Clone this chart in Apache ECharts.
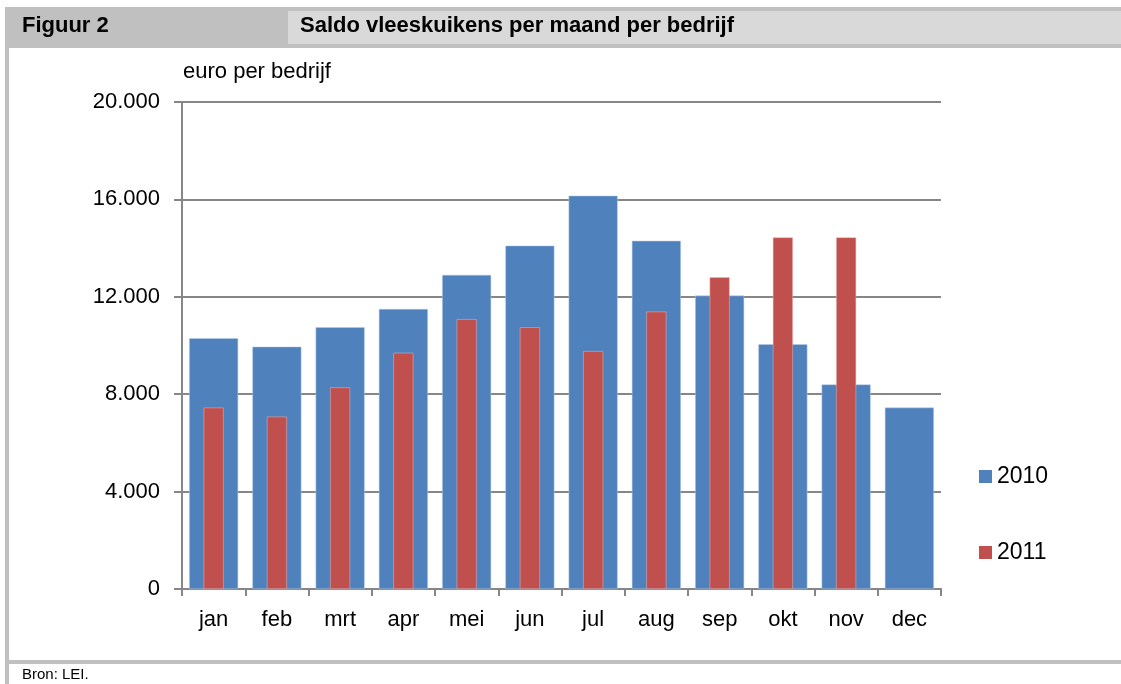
<!DOCTYPE html>
<html>
<head>
    <meta charset="UTF-8">
    <title>Figuur 2</title>
    <style>
        body, html { width: 100%; height: 100%; margin: 0; padding: 0; background: #fff; }
        #myChart { width: 1121px; height: 684px; }
    </style>
    <script src="https://cdn.jsdelivr.net/npm/echarts@6/dist/echarts.min.js"></script>
</head>
<body>
    <div id="myChart"></div>
    <script>
        // data
        let maanden = ['jan', 'feb', 'mrt', 'apr', 'mei', 'jun', 'jul', 'aug', 'sep', 'okt', 'nov', 'dec'];
        let saldo2010 = [10300, 9950, 10750, 11500, 12900, 14100, 16150, 14300, 12050, 10050, 8400, 7450];
        let saldo2011 = [7450, 7080, 8280, 9700, 11080, 10750, 9770, 11390, 12800, 14440, 14440, null];
        let yTicks = [0, 4000, 8000, 12000, 16000, 20000];

        let font = '"Liberation Sans", Arial, sans-serif';

        let myEcharts = echarts.init(document.querySelector('#myChart'));

        let option = {
            animation: false,
            textStyle: { fontFamily: font },
            grid: { left: 182, top: 102, right: 180, bottom: 95 },
            graphic: [
                // kader
                { type: 'rect', shape: { x: 5, y: 7, width: 1116, height: 41 }, style: { fill: '#c0c0c0' } },
                { type: 'rect', shape: { x: 288, y: 11, width: 833, height: 33 }, style: { fill: '#d9d9d9' } },
                { type: 'rect', shape: { x: 5, y: 48, width: 4, height: 636 }, style: { fill: '#c0c0c0' } },
                { type: 'rect', shape: { x: 5, y: 660, width: 1116, height: 4 }, style: { fill: '#c0c0c0' } },
                { type: 'text', left: 22, top: 15, style: { text: 'Figuur 2', font: 'bold 22px ' + font, fill: '#000' } },
                { type: 'text', left: 300, top: 15, style: { text: 'Saldo vleeskuikens per maand per bedrijf', font: 'bold 22px ' + font, fill: '#000' } },
                { type: 'text', left: 183, top: 61, style: { text: 'euro per bedrijf', font: '22px ' + font, fill: '#000' } },
                { type: 'text', left: 22, top: 667, style: { text: 'Bron: LEI.', font: '15px ' + font, fill: '#000' } }
            ],
            legend: {
                orient: 'vertical',
                left: 979,
                top: 465,
                padding: 0,
                itemGap: 53,
                itemWidth: 13,
                itemHeight: 13,
                icon: 'rect',
                itemStyle: { borderWidth: 0 },
                textStyle: { fontSize: 23, color: '#000', fontFamily: font },
                data: ['2010', '2011']
            },
            xAxis: [
                {
                    type: 'category',
                    data: maanden,
                    axisLine: { lineStyle: { color: '#868686', width: 2 } },
                    axisTick: { show: true, length: 7, lineStyle: { color: '#868686', width: 2 } },
                    axisLabel: { fontSize: 22, color: '#000', margin: 20, fontFamily: font }
                },
                {
                    type: 'category',
                    data: maanden,
                    show: false
                }
            ],
            yAxis: {
                type: 'value',
                min: 0,
                max: 20000,
                interval: 4000,
                axisLine: { show: true, lineStyle: { color: '#868686', width: 2 } },
                axisTick: { show: true, length: 8, lineStyle: { color: '#868686', width: 2 } },
                splitLine: { lineStyle: { color: '#868686', width: 2 } },
                axisLabel: {
                    fontSize: 22,
                    color: '#000',
                    margin: 22,
                    fontFamily: font,
                    formatter: v => yTicks.includes(v) ? v.toLocaleString('nl-NL') : ''
                }
            },
            series: [
                {
                    name: '2010',
                    type: 'bar',
                    xAxisIndex: 0,
                    barWidth: 49,
                    data: saldo2010,
                    itemStyle: { color: '#4f81bd', borderColor: '#b9cde5', borderWidth: 0.5 }
                },
                {
                    name: '2011',
                    type: 'bar',
                    xAxisIndex: 1,
                    barWidth: 20,
                    data: saldo2011,
                    itemStyle: { color: '#c0504d', borderColor: '#e6b9b8', borderWidth: 0.5 }
                }
            ]
        };
        myEcharts.setOption(option, true);
    </script>
</body>
</html>
